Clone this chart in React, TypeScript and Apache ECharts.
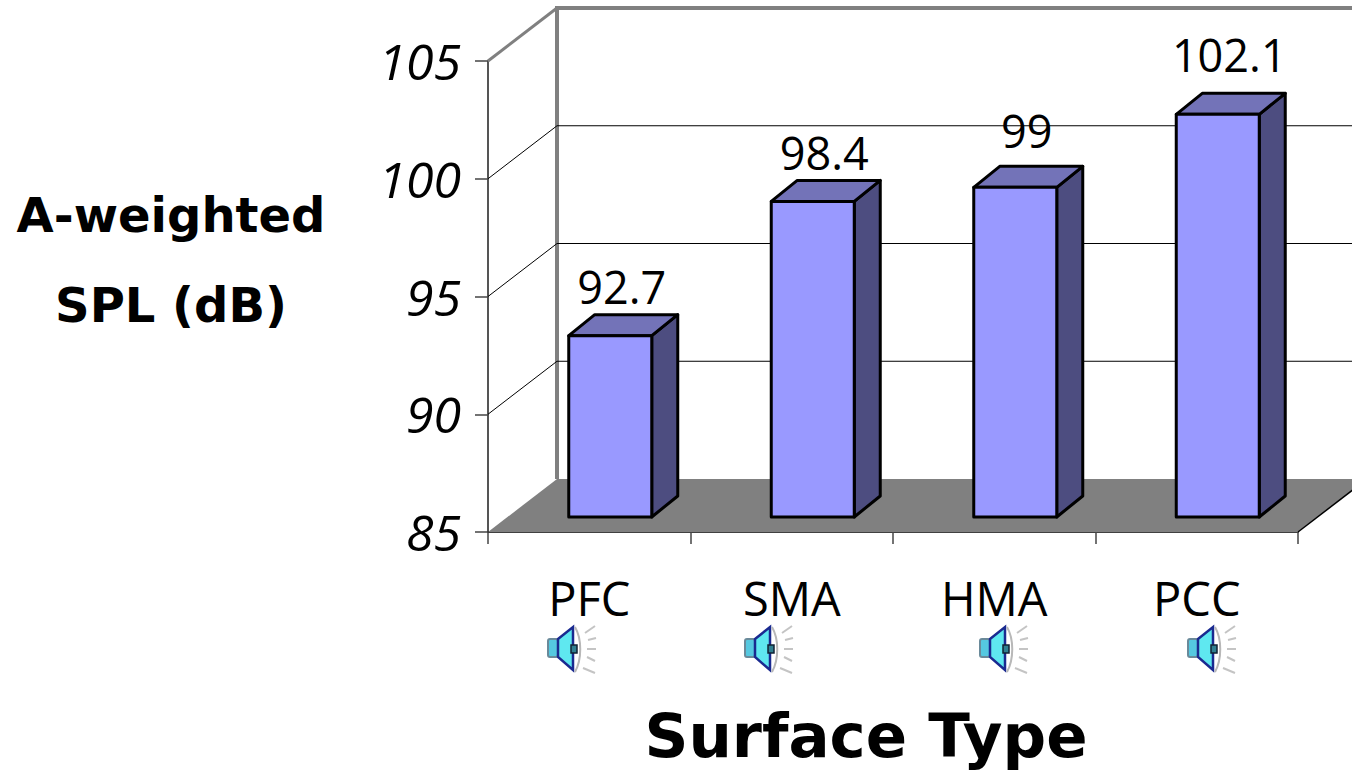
import React, { useEffect, useRef } from "react";
import * as echarts from "echarts";

const categories = ["PFC", "SMA", "HMA", "PCC"];
const splValues = [92.7, 98.4, 99, 102.1];
const valueLabels = ["92.7", "98.4", "99", "102.1"];
const axisTicks = [85, 90, 95, 100, 105];
const speakerLefts = [547, 744, 979, 1187];
const labelLifts = [28, 28, 36, 39];

const BODY_FONT = '"Open Sans", sans-serif';
const TITLE_FONT = '"DejaVu Sans", sans-serif';
const WALL = { dx: 69, dy: -53 };
const BAR = { dx: 21, dy: -15, width: 83, sideX: 26, sideY: -21 };

function renderWalls(params: any, api: any) {
  const v = api.value(1);
  const cs = params.coordSys;
  const [, y] = api.coord([0, v]);
  const x0 = cs.x;
  const x1 = cs.x + cs.width;
  const bx0 = x0 + WALL.dx;
  const bx1 = x1 + WALL.dx;
  const by = y + WALL.dy;
  const children: any[] = [];
  if (v === axisTicks[0]) {
    children.push({
      type: "polygon",
      shape: { points: [[x0, y], [bx0, by], [bx1, by], [x1, y]] },
      style: { fill: "#808080", stroke: "none" },
    });
    children.push({
      type: "line",
      shape: { x1, y1: y, x2: bx1, y2: by },
      style: { stroke: "#000", lineWidth: 1.5 },
    });
    children.push({
      type: "line",
      shape: { x1: bx0, y1: by, x2: bx0, y2: cs.y + WALL.dy },
      style: { stroke: "#808080", lineWidth: 4 },
    });
  } else if (v === axisTicks[axisTicks.length - 1]) {
    children.push({
      type: "line",
      shape: { x1: x0, y1: y, x2: bx0, y2: by },
      style: { stroke: "#808080", lineWidth: 3 },
    });
    children.push({
      type: "line",
      shape: { x1: bx0 - 2, y1: by, x2: bx1, y2: by },
      style: { stroke: "#808080", lineWidth: 4 },
    });
  } else {
    children.push({
      type: "polyline",
      shape: { points: [[x0, y], [bx0, by], [bx1, by]] },
      style: { stroke: "#000", lineWidth: 1, fill: "none" },
    });
  }
  return { type: "group", children };
}

function renderBars(params: any, api: any) {
  const idx = api.value(0);
  const v = api.value(1);
  const [cx, yTop] = api.coord([idx, v]);
  const [, yBase] = api.coord([idx, axisTicks[0]]);
  const l = cx + BAR.dx - BAR.width / 2;
  const r = l + BAR.width;
  const t = yTop + BAR.dy;
  const b = yBase + BAR.dy;
  const sx = BAR.sideX;
  const sy = BAR.sideY;
  const edge = { stroke: "#000", lineWidth: 3, lineJoin: "round" };
  return {
    type: "group",
    children: [
      {
        type: "polygon",
        shape: { points: [[r, t], [r + sx, t + sy], [r + sx, b + sy], [r, b]] },
        style: { fill: "#4d4d80", ...edge },
      },
      {
        type: "polygon",
        shape: { points: [[l, t], [l + sx, t + sy], [r + sx, t + sy], [r, t]] },
        style: { fill: "#7373b8", ...edge },
      },
      {
        type: "rect",
        shape: { x: l, y: t, width: BAR.width, height: b - t },
        style: { fill: "#9999ff", ...edge },
      },
      {
        type: "text",
        style: {
          x: (l + r + sx) / 2 - 1.5,
          y: t + sy - labelLifts[idx],
          text: valueLabels[idx],
          fill: "#000",
          font: `45px ${BODY_FONT}`,
          align: "center",
          verticalAlign: "middle",
        },
      },
    ],
  };
}

function speaker(left: number) {
  const rays = [
    [38, 10, 48, 3],
    [41, 17, 49, 15],
    [40, 26, 49, 26],
    [40, 34, 48, 38],
    [36, 45, 48, 50],
  ];
  return {
    type: "group",
    x: left,
    y: 623,
    children: [
      {
        type: "rect",
        shape: { x: 1, y: 16, width: 10, height: 18, r: 2 },
        style: { fill: "#55c8e0", stroke: "#6a8a9a", lineWidth: 2 },
      },
      {
        type: "polygon",
        shape: { points: [[11, 16], [26, 4], [26, 47], [11, 34]] },
        style: { fill: "#5fe8f0", stroke: "#1a2a90", lineWidth: 2.5 },
      },
      {
        type: "rect",
        shape: { x: 24, y: 22, width: 6, height: 8 },
        style: { fill: "#2f7f90", stroke: "#123", lineWidth: 1.5 },
      },
      {
        type: "bezierCurve",
        shape: { x1: 28, y1: 4, cpx1: 35, cpy1: 16, cpx2: 35, cpy2: 36, x2: 28, y2: 49 },
        style: { stroke: "#b8b8b8", lineWidth: 2, fill: "none" },
      },
      ...rays.map(([x1, y1, x2, y2]) => ({
        type: "line",
        shape: { x1, y1, x2, y2 },
        style: { stroke: "#c4c4c4", lineWidth: 2 },
      })),
    ],
  };
}

export default function App() {
  const ref = useRef<HTMLDivElement>(null);
  useEffect(() => {
    const chart = echarts.init(ref.current!, null, { renderer: "svg" });
    chart.setOption({
      animation: false,
      backgroundColor: "#ffffff",
      grid: { left: 488, right: 54, top: 61, bottom: 244, containLabel: false },
      xAxis: {
        type: "category",
        data: categories,
        boundaryGap: true,
        axisLine: { show: true, lineStyle: { color: "#000", width: 1.5 } },
        axisTick: { show: true, length: 12, alignWithLabel: false, lineStyle: { color: "#444", width: 1.5 } },
        axisLabel: { color: "#000", fontFamily: BODY_FONT, fontSize: 47, margin: 42 },
        splitLine: { show: false },
      },
      yAxis: {
        type: "value",
        min: 85,
        max: 105,
        interval: 5,
        axisLine: { show: true, lineStyle: { color: "#555", width: 2 } },
        axisTick: { show: true, length: 13, lineStyle: { color: "#444", width: 1.5 } },
        axisLabel: { color: "#000", fontFamily: BODY_FONT, fontStyle: "italic", fontSize: 50, margin: 27 },
        splitLine: { show: false },
      },
      series: [
        {
          type: "custom",
          coordinateSystem: "cartesian2d",
          renderItem: renderWalls,
          clip: false,
          silent: true,
          z: 1,
          data: axisTicks.map((t) => [0, t]),
        },
        {
          type: "custom",
          coordinateSystem: "cartesian2d",
          renderItem: renderBars,
          clip: false,
          z: 3,
          encode: { x: 0, y: 1 },
          data: splValues.map((v, i) => [i, v]),
        },
      ],
      graphic: [
        {
          type: "text",
          x: 171,
          y: 260,
          style: {
            text: "A-weighted\nSPL (dB)",
            fill: "#000",
            font: `bold 48px ${TITLE_FONT}`,
            lineHeight: 90,
            align: "center",
            verticalAlign: "middle",
          },
        },
        {
          type: "text",
          x: 866,
          y: 735,
          style: {
            text: "Surface Type",
            fill: "#000",
            font: `bold 61px ${TITLE_FONT}`,
            align: "center",
            verticalAlign: "middle",
          },
        },
        ...speakerLefts.map(speaker),
      ],
    });
    return () => chart.dispose();
  }, []);
  return <div ref={ref} style={{ position: "fixed", left: 0, top: 0, width: 1352, height: 776 }} />;
}
